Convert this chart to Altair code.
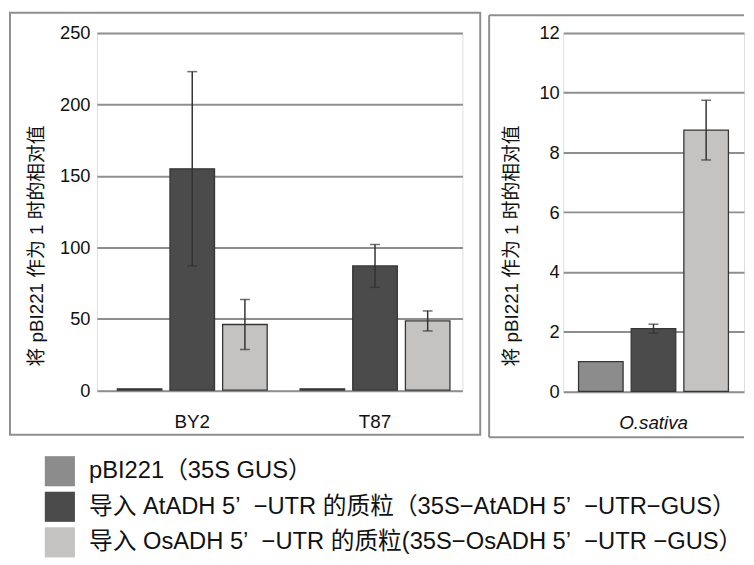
import altair as alt
import pandas as pd

FONT = "Liberation Sans, Noto Sans CJK SC"

series = [
    "pBI221（35S GUS）",
    "导入 AtADH 5’\u00a0 −UTR 的质粒（35S−AtADH 5’\u00a0 −UTR−GUS）",
    "导入 OsADH 5’\u00a0 −UTR 的质粒(35S−OsADH 5’\u00a0 −UTR −GUS）",
]
colors = ["#8c8c8c", "#4b4b4b", "#c4c3c1"]

left_groups = ["BY2", "T87"]
by2_vals = [1, 155, 46]
by2_err = [0, 68, 17.5]
t87_vals = [1, 87, 48.5]
t87_err = [0, 15, 7]

right_groups = ["O.sativa"]
os_vals = [1, 2.1, 8.75]
os_err = [0, 0.15, 1.0]

left_ticks = [0, 50, 100, 150, 200, 250]
right_ticks = [0, 2, 4, 6, 8, 10, 12]

y_title = "将 pBI221 作为 1 时的相对值"


def make_df(groups, vals_list, errs_list):
    rows = []
    for g, vals, errs in zip(groups, vals_list, errs_list):
        for s, v, e in zip(series, vals, errs):
            rows.append({"group": g, "series": s, "value": v,
                         "lo": v - e, "hi": v + e, "has_err": e > 0})
    return pd.DataFrame(rows)


left_df = make_df(left_groups, [by2_vals, t87_vals], [by2_err, t87_err])
right_df = make_df(right_groups, [os_vals], [os_err])


def panel(df, groups, ymax, ticks, pad_inner, pad_outer, align,
          title_x, title_y, label_pad, italic):
    color = alt.Color(
        "series:N",
        scale=alt.Scale(domain=series, range=colors),
        legend=alt.Legend(
            title=None, orient="none", legendX=-53, legendY=428,
            direction="vertical", symbolType="square", symbolSize=930,
            symbolStrokeWidth=0, symbolOpacity=1, labelFontSize=24,
            labelFont=FONT, labelColor="#111", labelOffset=14,
            rowPadding=5, padding=0, labelLimit=700,
        ),
    )
    x = alt.X(
        "group:N",
        scale=alt.Scale(domain=groups, paddingInner=pad_inner,
                        paddingOuter=pad_outer, align=align),
        axis=alt.Axis(title=None, ticks=False, domain=False, labelAngle=0,
                      labelFontSize=19, labelFont=FONT, labelColor="#111",
                      labelPadding=23,
                      labelFontStyle="italic" if italic else "normal"),
    )
    xo = alt.XOffset("series:N",
                     scale=alt.Scale(domain=series, paddingInner=0.154,
                                     paddingOuter=0))
    y = alt.Y(
        "value:Q",
        scale=alt.Scale(domain=[0, ymax], nice=False, zero=True),
        axis=alt.Axis(
            values=ticks, grid=True, gridColor="#8e8e8e", gridWidth=2,
            domain=False, ticks=False, labelFontSize=18.5, labelFont=FONT,
            labelColor="#111", labelPadding=label_pad,
            title=y_title, titleFont=FONT, titleFontSize=19,
            titleFontWeight="normal", titleColor="#111",
            titleAngle=270, titleX=title_x, titleY=title_y,
            titleAlign="center", titleBaseline="middle",
        ),
    )
    base = alt.Chart(df)
    bars = base.mark_bar(stroke="#363636", strokeWidth=1.3).encode(
        x=x, xOffset=xo, y=y, color=color)
    err_df = base.transform_filter("datum.has_err")
    rules = err_df.mark_rule(color="#333", strokeWidth=1.5).encode(
        x=x, xOffset=xo, y=alt.Y("lo:Q"), y2="hi:Q")
    cap_lo = err_df.mark_tick(color="#333", size=10, thickness=1.5,
                              orient="horizontal").encode(
        x=x, xOffset=xo, y=alt.Y("lo:Q"))
    cap_hi = err_df.mark_tick(color="#333", size=10, thickness=1.5,
                              orient="horizontal").encode(
        x=x, xOffset=xo, y=alt.Y("hi:Q"))
    return bars, rules, cap_lo, cap_hi


one = pd.DataFrame({"k": [0]})

# left panel
LW, LH = 370, 361.5
lb, lr, llo, lhi = panel(left_df, left_groups, 250, left_ticks,
                         0.18, 0.09, 0.62, -61, 215, 7, False)
left_border = alt.Chart(one).mark_rect(
    fillOpacity=0, stroke="#8f8f8f", strokeWidth=2).encode(
    x=alt.value(-88), x2=alt.value(388), y=alt.value(-20.5),
    y2=alt.value(406.5))
left = alt.layer(lb, lr, llo, lhi, left_border).properties(
    width=LW, height=LH)

# right panel
RW, RH = 183, 362.7
rb, rr, rlo, rhi = panel(right_df, right_groups, 12, right_ticks,
                         0, 0.102, 0.5, -52, 215, 4, True)
rb_left = alt.Chart(one).mark_rule(stroke="#8f8f8f", strokeWidth=2).encode(
    x=alt.value(-75), y=alt.value(-18), y2=alt.value(409))
rb_top = alt.Chart(one).mark_rule(stroke="#8f8f8f", strokeWidth=2).encode(
    x=alt.value(-75), x2=alt.value(RW), y=alt.value(-18))
rb_bot = alt.Chart(one).mark_rule(stroke="#8f8f8f", strokeWidth=2).encode(
    x=alt.value(-75), x2=alt.value(RW), y=alt.value(409))
right = alt.layer(rb, rr, rlo, rhi, rb_left, rb_top, rb_bot).properties(
    width=RW, height=RH)

chart = alt.hconcat(left, right, spacing=5).properties(
    padding={"left": 0, "top": 0, "right": 0, "bottom": 0}
).configure_view(stroke=None).configure(font=FONT)

chart.save("out.html", embed_options={"renderer": "svg", "actions": False})
